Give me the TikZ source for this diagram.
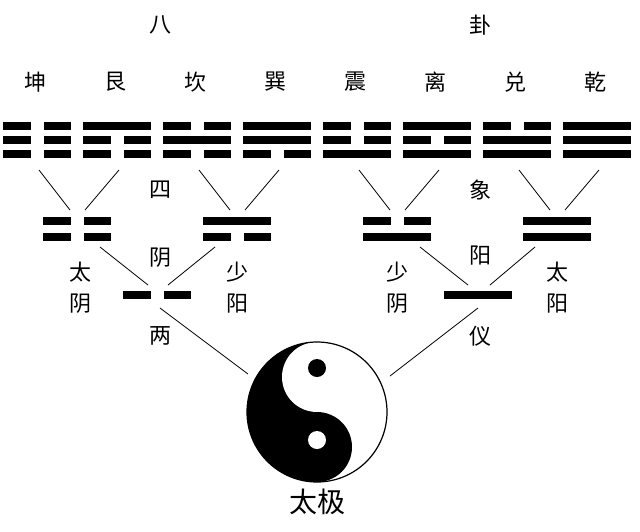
\documentclass[tikz,border=0pt]{standalone}
\usepackage{fontspec}
\newfontfamily\cjk{Noto Sans CJK SC}
\usetikzlibrary{positioning}
% one line of a gua: centre x, centre y, width
\newcommand{\yangbar}[3]{\fill (#1-#3/2,#2-4) rectangle (#1+#3/2,#2+4);}
\newcommand{\yinbar}[3]{\fill (#1-#3/2,#2-4) rectangle (#1-6.5,#2+4); \fill (#1+6.5,#2-4) rectangle (#1+#3/2,#2+4);}
\newcommand{\yaobar}[4]{\ifnum#1=1 \yangbar{#2}{#3}{#4}\else\yinbar{#2}{#3}{#4}\fi}
\tikzset{
  gua/.style={font=\cjk\fontsize{22}{24}\selectfont},
  bigname/.style={font=\cjk\fontsize{28}{30}\selectfont},
  link/.style={line width=0.8pt}
}
\begin{document}
\begin{tikzpicture}[x=1pt,y=-1pt]
    \useasboundingbox (0,0) rectangle (640,531);

    % labels of the eight gua
    \node [gua] (ba) at (160,25) {八};
    \node [gua] (gua) at (480,25) {卦};
    \foreach \name [count=\i] in {坤,艮,坎,巽,震,离,兑,乾}
        \node [gua] (n\i) at (-45+80*\i,82) {\name};

    % eight trigrams (top, middle, bottom)
    \foreach \a/\b/\c [count=\i] in {0/0/0,1/0/0,0/1/0,1/1/0,0/0/1,1/0/1,0/1/1,1/1/1} {
        \pgfmathsetmacro{\cx}{-43+80*\i}
        \yaobar{\a}{\cx}{126}{68}
        \yaobar{\b}{\cx}{140}{68}
        \yaobar{\c}{\cx}{154}{68}
        \coordinate (t\i) at (\cx+2,170);
    }

    % four images
    \foreach \a/\b/\x [count=\i] in {0/0/77,1/0/237,0/1/397,1/1/557} {
        \yaobar{\a}{\x}{221}{68}
        \yaobar{\b}{\x}{237}{68}
        \coordinate (stl\i) at (\x-7,210);
        \coordinate (str\i) at (\x+8,210);
        \coordinate (sl\i) at (\x+23,247);
        \coordinate (sr\i) at (\x-22,247);
    }
    \draw [link] (t1) -- (stl1);
    \draw [link] (t2) -- (str1);
    \draw [link] (t3) -- (stl2);
    \draw [link] (t4) -- (str2);
    \draw [link] (t5) -- (stl3);
    \draw [link] (t6) -- (str3);
    \draw [link] (t7) -- (stl4);
    \draw [link] (t8) -- (str4);

    % two forms
    \yinbar{157}{295}{68}
    \yangbar{478}{295}{68}
    \coordinate (yinl) at (148,285);
    \coordinate (yinr) at (168,285);
    \coordinate (yangl) at (468,285);
    \coordinate (yangr) at (490,285);
    \coordinate (yinb) at (160,308);
    \coordinate (yangb) at (478,308);
    \draw [link] (sl1) -- (yinl);
    \draw [link] (sr2) -- (yinr);
    \draw [link] (sl3) -- (yangl);
    \draw [link] (sr4) -- (yangr);

    % side labels
    \node [gua] (si) at (160,190) {四};
    \node [gua] (yin) at (160,258) {阴};
    \node [gua] (liang) at (160,336) {两};
    \node [gua] (xiang) at (480,190) {象};
    \node [gua] (yang) at (480,256) {阳};
    \node [gua] (yi) at (480,336) {仪};
    \foreach \x/\p/\q in {80/太/阴,237/少/阳,397/少/阴,557/太/阳} {
        \node [gua] at (\x,272) {\p};
        \node [gua] at (\x,304) {\q};
    }

    % taiji
    \coordinate (tj) at (317,412);
    \begin{scope}
        \clip (246,341) rectangle (317,483);
        \fill (tj) circle (70);
    \end{scope}
    \fill [white] (317,377) circle (35);
    \fill (317,447) circle (35);
    \draw [line width=1.2pt] (tj) circle (70);
    \fill (317,368) circle (9);
    \fill [white] (317,440) circle (9);
    \coordinate (tjl) at (248,374);
    \coordinate (tjr) at (390,376);
    \draw [link] (yinb) -- (tjl);
    \draw [link] (yangb) -- (tjr);
    \node [bigname] (taiji) at (317,502) {太极};
\end{tikzpicture}
\end{document}
